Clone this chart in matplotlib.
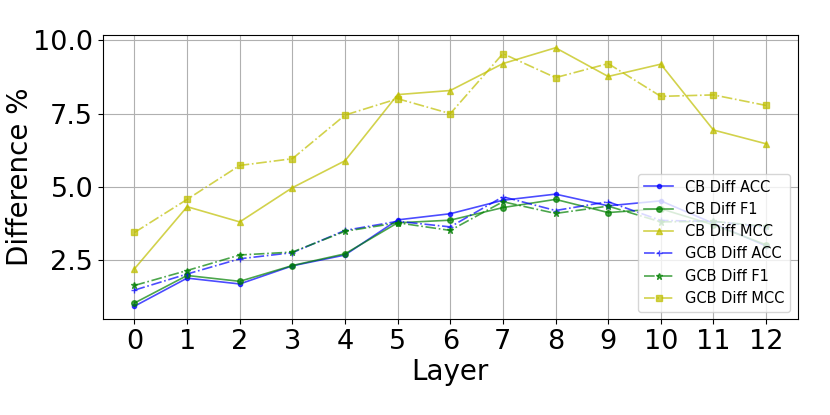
import matplotlib
matplotlib.use("Agg")
import matplotlib.pyplot as plt

# layers
layers = list(range(13))

# difference values (%) per layer
cb_acc = [0.92, 1.88, 1.68, 2.30, 2.67, 3.87, 4.08, 4.54, 4.75, 4.35, 4.52, 3.75, 2.98]
cb_f1 = [1.03, 1.97, 1.77, 2.31, 2.71, 3.77, 3.86, 4.29, 4.57, 4.12, 4.25, 3.70, 3.02]
cb_mcc = [2.20, 4.32, 3.80, 4.97, 5.89, 8.15, 8.29, 9.21, 9.75, 8.77, 9.19, 6.94, 6.47]
gcb_acc = [1.47, 2.02, 2.54, 2.75, 3.51, 3.82, 3.63, 4.66, 4.19, 4.49, 3.85, 3.82, 3.62]
gcb_f1 = [1.63, 2.14, 2.67, 2.77, 3.48, 3.77, 3.51, 4.49, 4.09, 4.34, 3.80, 3.82, 3.65]
gcb_mcc = [3.44, 4.57, 5.73, 5.96, 7.45, 8.01, 7.50, 9.55, 8.73, 9.21, 8.09, 8.14, 7.78]

y_ticks = [2.5, 5.0, 7.5, 10.0]

fig = plt.figure(figsize=(8.3, 4.15), dpi=100)
ax = fig.add_axes([0.124, 0.231, 0.837, 0.685])

lw = 1.2
ax.plot(layers, cb_acc, color='b', marker='.', ms=6, lw=lw, ls='-', alpha=0.7, label='CB Diff ACC')
ax.plot(layers, cb_f1, color='g', marker='o', ms=4, lw=lw, ls='-', alpha=0.7, label='CB Diff F1')
ax.plot(layers, cb_mcc, color='y', marker='^', ms=4, lw=lw, ls='-', alpha=0.7, label='CB Diff MCC')
ax.plot(layers, gcb_acc, color='b', marker='+', ms=5, lw=lw, ls='-.', alpha=0.7, label='GCB Diff ACC')
ax.plot(layers, gcb_f1, color='g', marker='*', ms=5, lw=lw, ls='-.', alpha=0.7, label='GCB Diff F1')
ax.plot(layers, gcb_mcc, color='y', marker='s', ms=4, lw=lw, ls='-.', alpha=0.7, label='GCB Diff MCC')

ax.set_xticks(layers)
ax.set_yticks(y_ticks)
ax.tick_params(labelsize=19.5)
ax.set_xlabel('Layer', fontsize=20, labelpad=2)
ax.set_ylabel('Difference %', fontsize=20)
ax.yaxis.set_label_coords(-0.099, 0.5)
ax.grid(True)
ax.legend(loc='lower right', fontsize=10.5)

fig.savefig('out.png', dpi=100)
